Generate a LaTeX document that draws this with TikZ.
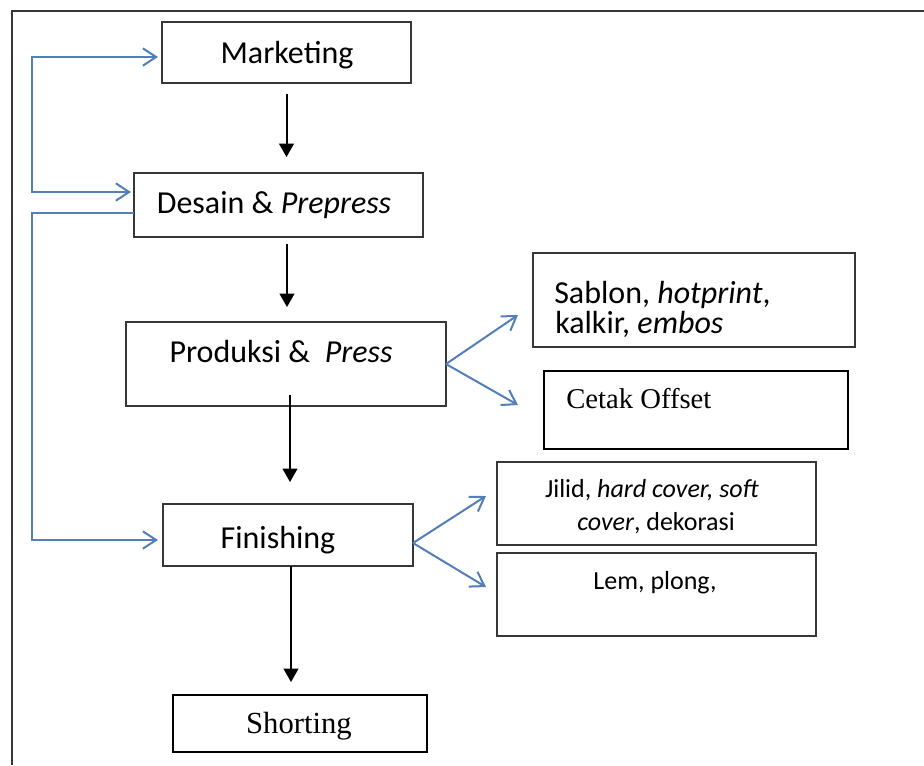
\documentclass[tikz,border=0pt]{standalone}
\usepackage{fontspec}
\setmainfont{Carlito}
\newfontfamily\tnr{Liberation Serif}
\usetikzlibrary{arrows.meta,fit,calc}
\definecolor{bluline}{RGB}{84,126,184}
\definecolor{boxgray}{RGB}{55,55,55}
\tikzset{
  box/.style={draw=boxgray, line width=1.2pt, inner sep=0pt, outer sep=0pt},
  tbox/.style={draw=black, line width=0.8pt, inner sep=0pt, outer sep=0pt},
  txt/.style={inner sep=0pt, anchor=base, font=\fontsize{24}{28}\selectfont},
  txtl/.style={inner sep=0pt, anchor=base west, font=\fontsize{24}{28}\selectfont},
  stxt/.style={inner sep=0pt, anchor=base, font=\fontsize{19.5}{24}\selectfont},
  blk/.style={draw=black, line width=1.5pt, -{Triangle[length=10pt,width=11pt]}},
  blu/.style={draw=bluline, line width=1.5pt, -{Straight Barb[length=10pt,width=13pt,line width=1.5pt]}},
  blub/.style={draw=bluline, line width=1.5pt, {Straight Barb[length=10pt,width=13pt,line width=1.5pt]}-{Straight Barb[length=10pt,width=13pt,line width=1.5pt]}}
}
\begin{document}
\begin{tikzpicture}[x=0.75pt,y=-0.75pt]
\useasboundingbox (0,0) rectangle (924,765);
% outer frame
\draw[draw=boxgray, line width=1.5pt] (12,765) -- (12,11) -- (924,11);

% boxes
\node[box, fit={(162,22) (411,83)}] (mk) {};
\node[box, fit={(134,173) (423,237)}] (ds) {};
\node[box, fit={(126,322) (446,406)}] (pr) {};
\node[box, fit={(533,253) (855,347)}] (sb) {};
\node[tbox, fit={(544,371) (848,449)}] (co) {};
\node[box, fit={(163,504) (413,566)}] (fi) {};
\node[box, fit={(497,462) (816,545)}] (jl) {};
\node[box, fit={(497,553) (816,636)}] (lm) {};
\node[tbox, fit={(173,695) (427,752)}] (sh) {};

% texts
\node[txt] (tmk) at (287,63) {Marketing};
\node[txt] (tds) at (274,213) {Desain \& \textit{Prepress}};
\node[txt] (tpr) at (281,362) {Produksi \&\ \ \textit{Press}};
\node[txtl] (tsb1) at (554,303) {Sablon, \textit{hotprint},};
\node[txtl] (tsb2) at (555,333) {kalkir, \textit{embos}};
\node[inner sep=0pt, anchor=base west, font=\tnr\fontsize{21.5}{26}\selectfont] (tco) at (566,408) {Cetak Offset};
\node[txt] (tfi) at (278,548) {Finishing};
\node[stxt] (tjl1) at (652,497) {Jilid, \textit{hard cover, soft}};
\node[stxt] (tjl2) at (656,530) {\textit{cover}, dekorasi};
\node[stxt] (tlm) at (655,589) {Lem, plong,};
\node[inner sep=0pt, anchor=base, font=\tnr\fontsize{23}{28}\selectfont] (tsh) at (299,733) {Shorting};

% black flow arrows
\draw[blk] (mk.south) ++(0,11) -- ++(0,63);
\draw[blk] (ds.south) ++(8.5,7) -- ++(0,63);
\draw[blk] (pr.south) ++(4,-11) -- ++(0,87);
\draw[blk] (fi.south) ++(3,0) -- ++(0,116);

% blue feedback arrows
\draw[blub] ($(mk.west)+(-4,4.5)$) -| (32,192) -- ($(ds.west)+(-3,-13)$);
\draw[blu] ($(ds.west)+(0,8)$) -| (32,540) -- ($(fi.west)+(-5,5)$);

% blue branch arrows
\draw[blu] (pr.east) -- ($(sb.west)+(-15,15)$);
\draw[blu] (pr.east) -- ($(co.west)+(-26,-5)$);
\draw[blu] ($(fi.east)+(0,8)$) -- ($(jl.west)+(-11,-7.5)$);
\draw[blu] ($(fi.east)+(0,8)$) -- ($(lm.west)+(-11,-7.5)$);
\end{tikzpicture}
\end{document}
